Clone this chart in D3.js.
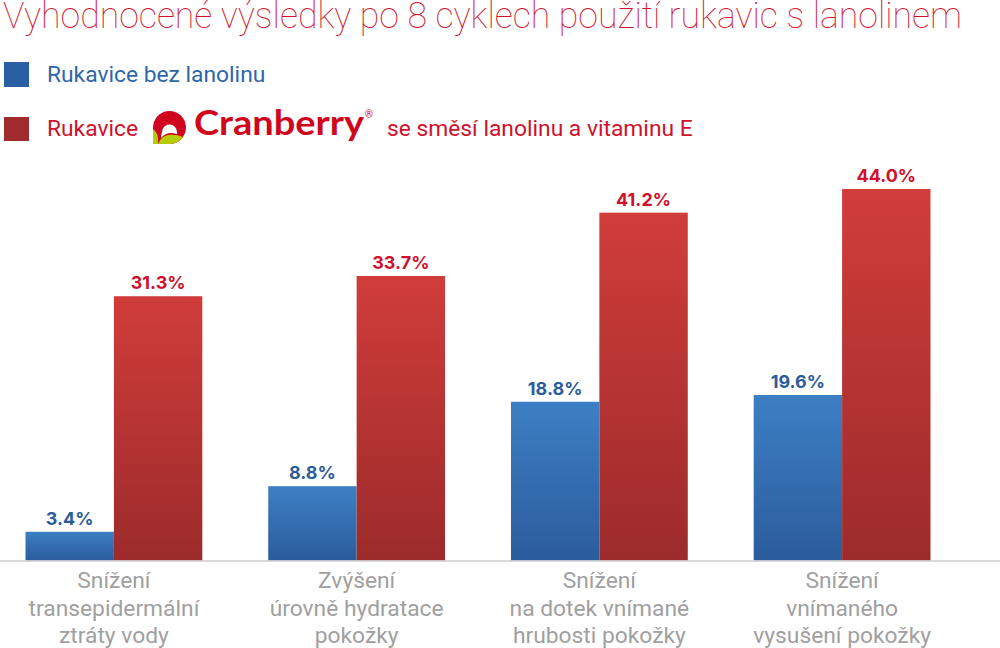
<!DOCTYPE html>
<html>
<head>
<meta charset="utf-8">
<script src="https://cdn.jsdelivr.net/npm/d3@7"></script>
<style>
html, body { margin: 0; padding: 0; background: #fff; }
svg { display: block; }
text { font-family: Roboto, sans-serif; }
</style>
</head>
<body>
<svg id="chart" width="1000" height="648"></svg>
<script>
var categories = [
    ["Snížení", "transepidermální", "ztráty vody"],
    ["Zvýšení", "úrovně hydratace", "pokožky"],
    ["Snížení", "na dotek vnímané", "hrubosti pokožky"],
    ["Snížení", "vnímaného", "vysušení pokožky"]
];
var withoutLanolin = [3.4, 8.8, 18.8, 19.6];
var cranberry = [31.3, 33.7, 41.2, 44.0];
var seriesNames = ["withoutLanolin", "cranberry"];

var svg = d3.select("#chart");
var defs = svg.append("defs");

// gradient runs over the height of each bar
var addBarGradient = function(id, top, bottom)
{
    var g = defs.append("linearGradient").attr("id", id)
        .attr("x1", 0).attr("x2", 0).attr("y1", 0).attr("y2", 1);
    g.append("stop").attr("offset", 0).attr("stop-color", top);
    g.append("stop").attr("offset", 1).attr("stop-color", bottom);
}
addBarGradient("blueBar", "#3d7fc4", "#2b5c9c");
addBarGradient("redBar", "#d03d3a", "#9c2b2b");

var x = d3.scaleBand()
    .domain(d3.range(categories.length))
    .range([25.5, 930.5])
    .paddingInner(0.2716)
    .paddingOuter(0);
var xSeries = d3.scaleBand().domain(seriesNames).range([0, x.bandwidth()]);
var y = d3.scaleLinear().domain([0, 44]).range([560.5, 189]);

//title
svg.append("text")
    .attr("x", 3).attr("y", 28)
    .attr("fill", "#d0112b")
    .attr("textLength", 959)
    .attr("lengthAdjust", "spacingAndGlyphs")
    .style("font-weight", 100)
    .style("font-size", "36px")
    .text("Vyhodnocené výsledky po 8 cyklech použití rukavic s lanolinem");

//legend
svg.append("rect").attr("x", 4).attr("y", 62).attr("width", 25).attr("height", 25).attr("fill", "#2b5fa3");
svg.append("rect").attr("x", 4).attr("y", 117).attr("width", 25).attr("height", 24).attr("fill", "#9f2b2c");
svg.append("text").attr("x", 47).attr("y", 82).attr("fill", "#2f66a8")
    .style("font-size", "22.8px").text("Rukavice bez lanolinu");
svg.append("text").attr("x", 47).attr("y", 136).attr("fill", "#d0112b")
    .style("font-size", "22.8px").text("Rukavice");
svg.append("text").attr("x", 387).attr("y", 136).attr("fill", "#d0112b")
    .style("font-size", "22.8px").text("se směsí lanolinu a vitaminu E");

//logo
var logo = svg.append("g").attr("transform", "translate(153,111)");
logo.append("path")
    .attr("d", "M0,33 L0,16.5 A16.5,16.5 0 1 1 16.5,33 Z")
    .attr("fill", "#d0061f");
logo.append("path")
    .attr("d", "M9,21 A7.5,7.5 0 1 1 24,21 L24,23 Q14,20 8,27 Q8,24 9,21 Z")
    .attr("fill", "#fff");
logo.append("path")
    .attr("d", "M0,33 L0,18 Q6,22 5,33 Z M5,33 Q8,25 15,24 Q23,23 30,26 Q25,33 16.5,33 Z")
    .attr("fill", "#b5cc0a");
svg.append("text").attr("x", 194).attr("y", 135)
    .attr("fill", "#d0061f")
    .attr("textLength", 170)
    .attr("lengthAdjust", "spacingAndGlyphs")
    .style("font-family", "Lato, sans-serif")
    .style("font-weight", 700)
    .style("font-size", "33.5px")
    .text("Cranberry");
svg.append("text").attr("x", 365).attr("y", 118)
    .attr("fill", "#d0061f")
    .style("font-size", "10px")
    .text("®");

//bars
var groups = svg.selectAll("g.group")
    .data(categories)
    .enter()
    .append("g")
    .attr("class", "group")
    .attr("transform", function(d, i) { return "translate(" + x(i) + ",0)"; });

var barData = function(d, i)
{
    return [
        {series: "withoutLanolin", value: withoutLanolin[i]},
        {series: "cranberry", value: cranberry[i]}
    ];
}

groups.selectAll("rect")
    .data(barData)
    .enter()
    .append("rect")
    .attr("x", function(d) { return xSeries(d.series); })
    .attr("y", function(d) { return y(d.value); })
    .attr("width", xSeries.bandwidth())
    .attr("height", function(d) { return y(0) - y(d.value); })
    .attr("fill", function(d) { return d.series == "cranberry" ? "url(#redBar)" : "url(#blueBar)"; });

groups.selectAll("text.value")
    .data(barData)
    .enter()
    .append("text")
    .attr("class", "value")
    .attr("x", function(d) { return xSeries(d.series) + xSeries.bandwidth() / 2; })
    .attr("y", function(d) { return y(d.value) - 7; })
    .attr("text-anchor", "middle")
    .attr("fill", function(d) { return d.series == "cranberry" ? "#d0112b" : "#2b5c9c"; })
    .style("font-family", "Inter, sans-serif")
    .style("font-weight", 700)
    .style("font-size", "18px")
    .text(function(d) { return d.value.toFixed(1) + "%"; });

//baseline
svg.append("line")
    .attr("x1", 0).attr("x2", 1000)
    .attr("y1", 561).attr("y2", 561)
    .attr("stroke", "#cccccc").attr("stroke-width", 1.5);

//category labels
groups.each(function(d)
{
    var g = d3.select(this);
    d.forEach(function(line, j)
    {
        g.append("text")
            .attr("x", x.bandwidth() / 2)
            .attr("y", 588 + j * 27.5)
            .attr("text-anchor", "middle")
            .attr("fill", "#a0a0a0")
            .style("font-size", "22.8px")
            .text(line);
    });
});
</script>
</body>
</html>
